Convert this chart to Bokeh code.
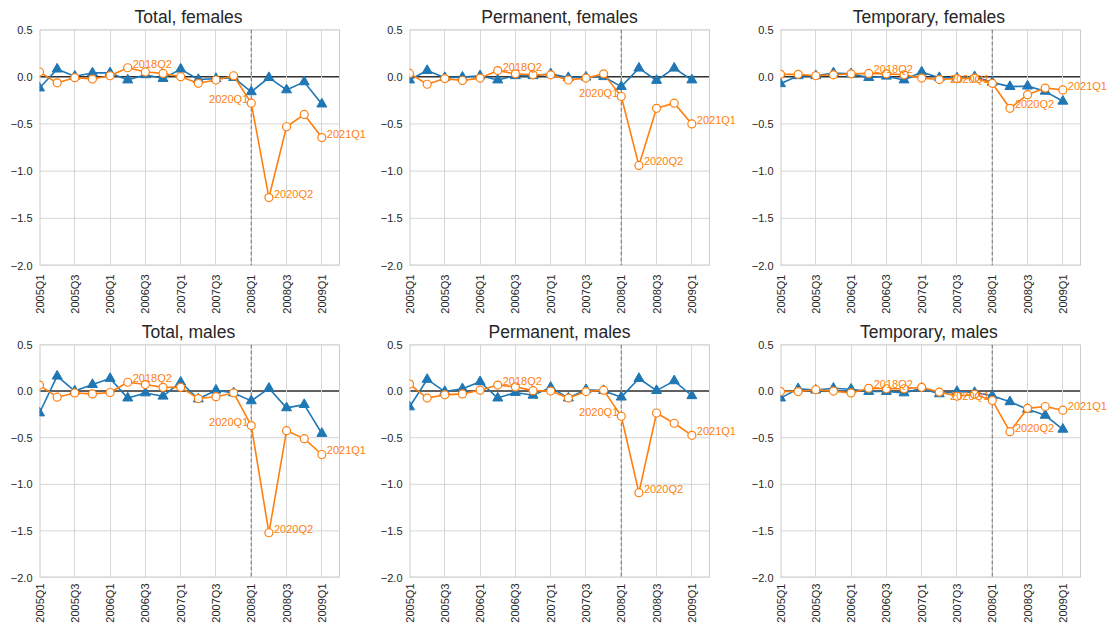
import math
from bokeh.plotting import figure
from bokeh.layouts import gridplot
from bokeh.models import FixedTicker, Span, Range1d, ColumnDataSource, LabelSet
from bokeh.core.properties import value
from bokeh.embed import file_html
from bokeh.resources import INLINE

# ---------------- data ----------------
quarters = ["2005Q1", "2005Q2", "2005Q3", "2005Q4", "2006Q1", "2006Q2", "2006Q3", "2006Q4",
            "2007Q1", "2007Q2", "2007Q3", "2007Q4", "2008Q1", "2008Q2", "2008Q3", "2008Q4", "2009Q1"]
recent_quarters = ["2017Q1", "2017Q2", "2017Q3", "2017Q4", "2018Q1", "2018Q2", "2018Q3", "2018Q4",
                   "2019Q1", "2019Q2", "2019Q3", "2019Q4", "2020Q1", "2020Q2", "2020Q3", "2020Q4", "2021Q1"]
annotated_right = ["2018Q2", "2020Q2", "2021Q1"]
annotated_left = ["2020Q1"]
tick_quarters = ["2005Q1", "2005Q3", "2006Q1", "2006Q3", "2007Q1", "2007Q3", "2008Q1", "2008Q3", "2009Q1"]
marker_quarter = "2008Q1"
y_ticks = [-2.0, -1.5, -1.0, -0.5, 0.0, 0.5]
y_tick_labels = ["\u22122.0", "\u22121.5", "\u22121.0", "\u22120.5", "0.0", "0.5"]

titles = ["Total, females", "Permanent, females", "Temporary, females",
          "Total, males", "Permanent, males", "Temporary, males"]

total_females_crisis = [-0.12, 0.08, 0.005, 0.04, 0.04, -0.035, 0.02, -0.02, 0.08, -0.03, -0.02, -0.01,
                        -0.16, -0.01, -0.14, -0.055, -0.29]
total_females_covid = [0.05, -0.065, -0.01, -0.025, 0.01, 0.095, 0.05, 0.035, 0.0, -0.07, -0.035, 0.01,
                       -0.28, -1.28, -0.53, -0.40, -0.645]
permanent_females_crisis = [-0.035, 0.065, -0.01, -0.005, 0.01, -0.035, 0.01, 0.01, 0.03, -0.01, -0.005, 0.0,
                            -0.105, 0.09, -0.04, 0.09, -0.035]
permanent_females_covid = [0.035, -0.08, -0.02, -0.04, -0.015, 0.065, 0.03, 0.02, 0.02, -0.035, -0.015, 0.03,
                           -0.21, -0.94, -0.335, -0.28, -0.50]
temporary_females_crisis = [-0.075, 0.01, 0.01, 0.04, 0.03, -0.01, 0.005, -0.035, 0.05, -0.01, -0.015, 0.0,
                            -0.06, -0.105, -0.10, -0.155, -0.26]
temporary_females_covid = [0.025, 0.025, 0.01, 0.02, 0.03, 0.035, 0.03, 0.02, -0.015, -0.03, -0.02, -0.015,
                           -0.07, -0.335, -0.19, -0.12, -0.14]
total_males_crisis = [-0.235, 0.16, 0.0, 0.07, 0.135, -0.075, -0.02, -0.055, 0.095, -0.085, 0.01, -0.02,
                      -0.105, 0.03, -0.18, -0.145, -0.455]
total_males_covid = [0.065, -0.065, -0.02, -0.03, -0.015, 0.095, 0.07, 0.04, 0.04, -0.08, -0.06, -0.02,
                     -0.37, -1.52, -0.425, -0.51, -0.68]
permanent_males_crisis = [-0.17, 0.125, -0.005, 0.025, 0.10, -0.075, -0.015, -0.045, 0.04, -0.075, 0.015, 0.005,
                          -0.065, 0.135, 0.005, 0.11, -0.05]
permanent_males_covid = [0.075, -0.075, -0.04, -0.03, 0.01, 0.065, 0.045, 0.005, 0.0, -0.075, -0.005, 0.01,
                         -0.27, -1.09, -0.235, -0.345, -0.475]
temporary_males_crisis = [-0.075, 0.025, 0.01, 0.03, 0.02, -0.005, -0.005, -0.02, 0.03, -0.03, -0.005, -0.015,
                          -0.05, -0.115, -0.195, -0.26, -0.41]
temporary_males_covid = [-0.005, -0.005, 0.015, 0.0, -0.02, 0.03, 0.025, 0.025, 0.04, -0.01, -0.055, -0.035,
                         -0.10, -0.435, -0.185, -0.165, -0.205]

crisis_series = [total_females_crisis, permanent_females_crisis, temporary_females_crisis,
                 total_males_crisis, permanent_males_crisis, temporary_males_crisis]
covid_series = [total_females_covid, permanent_females_covid, temporary_females_covid,
                total_males_covid, permanent_males_covid, temporary_males_covid]

# ---------------- style / layout ----------------
BLUE = "#1f77b4"
ORANGE = "#ff7f0e"
FONT = "Liberation Sans"
TXT = "#262626"
EDGE = "#cccccc"
GRID = "#d6d6d6"
TITLE_PX = 17.5
# approximate advance widths (em) of Liberation Sans, used to centre titles over the axes box
ADV = {"T": 0.611, "o": 0.556, "t": 0.278, "a": 0.556, "l": 0.222, ",": 0.278, " ": 0.278,
       "f": 0.278, "e": 0.556, "m": 0.833, "s": 0.5, "P": 0.667, "r": 0.333, "n": 0.556,
       "y": 0.5, "p": 0.556}

AXES_W = 300          # visible axes box width (px)
EXTRA_W = 28          # room right of the axes box where point labels may run
FRAME_W = AXES_W + EXTRA_W
col_widths = [370, 370, 369]
col_left = [39, 39, 40]
row_heights = [316, 309]
row_top = [29, 28]
row_bottom = [51, 46]

n_q = len(quarters)
x_idx = list(range(n_q))
x_end = n_q * FRAME_W / AXES_W
tick_pos = [quarters.index(q) for q in tick_quarters]
vline_pos = quarters.index(marker_quarter)

figs = []
for k in range(6):
    r, c = divmod(k, 3)
    p = figure(width=col_widths[c], height=row_heights[r], output_backend="svg", toolbar_location=None,
               x_range=Range1d(0, x_end), y_range=Range1d(-2.0, 0.5),
               min_border_left=col_left[c], min_border_right=col_widths[c] - col_left[c] - FRAME_W,
               min_border_top=row_top[r], min_border_bottom=row_bottom[r])
    title_w = sum(ADV.get(ch, 0.55) for ch in titles[k]) * TITLE_PX
    p.title.text = titles[k]
    p.title.text_font = FONT
    p.title.text_font_size = f"{TITLE_PX}px"
    p.title.text_font_style = "normal"
    p.title.text_color = TXT
    p.title.align = "left"
    p.title.offset = AXES_W / 2 - title_w / 2
    p.title.standoff = 6
    p.outline_line_color = None
    p.background_fill_color = "white"
    p.border_fill_color = "white"

    p.xaxis.ticker = FixedTicker(ticks=tick_pos)
    p.xaxis.major_label_overrides = {i: quarters[i] for i in tick_pos}
    p.xaxis.major_label_orientation = math.pi / 2
    p.yaxis.ticker = FixedTicker(ticks=y_ticks)
    p.yaxis.major_label_overrides = dict(zip(y_ticks, y_tick_labels))
    for ax in (p.xaxis, p.yaxis):
        ax.axis_line_color = None
        ax.major_tick_line_color = None
        ax.minor_tick_line_color = None
        ax.major_tick_out = 0
        ax.major_tick_in = 0
        ax.major_label_text_font = FONT
        ax.major_label_text_color = TXT
    p.yaxis.major_label_text_font_size = "11px"
    p.yaxis.major_label_standoff = 7
    p.xaxis.major_label_text_font_size = "11px"
    p.xaxis.major_label_standoff = 9 if r == 0 else 6
    p.xgrid.grid_line_color = GRID
    p.xgrid.grid_line_width = 1
    p.ygrid.grid_line_color = None

    # horizontal grid lines and axes box edges, limited to the visible quarter span
    p.segment(x0=[0] * len(y_ticks), x1=[n_q] * len(y_ticks), y0=y_ticks, y1=y_ticks,
              line_color=GRID, line_width=1, level="underlay")
    p.segment(x0=[0, 0], x1=[n_q, n_q], y0=[0.5, -2.0], y1=[0.5, -2.0],
              line_color=EDGE, line_width=2, level="underlay")
    p.add_layout(Span(location=n_q, dimension="height", line_color=EDGE, line_width=1, level="underlay"))
    p.add_layout(Span(location=0, dimension="height", line_color=EDGE, line_width=2, level="underlay"))
    p.segment(x0=[0], x1=[n_q], y0=[0], y1=[0], line_color="#333333", line_width=1.5, level="underlay")
    p.add_layout(Span(location=vline_pos, dimension="height", line_color="#808080", line_width=1.2,
                      line_dash="4 2", level="underlay"))

    blue = crisis_series[k]
    orange = covid_series[k]
    p.line(x_idx, blue, line_color=BLUE, line_width=1.6)
    p.scatter(x_idx, blue, marker="triangle", size=10, fill_color=BLUE, line_color=BLUE)
    p.line(x_idx, orange, line_color=ORANGE, line_width=1.6)
    p.scatter(x_idx, orange, marker="circle", size=8, fill_color="white", line_color=ORANGE, line_width=1.2)

    ri = [recent_quarters.index(q) for q in annotated_right]
    li = [recent_quarters.index(q) for q in annotated_left]
    src_r = ColumnDataSource(dict(x=ri, y=[orange[i] for i in ri], t=annotated_right))
    src_l = ColumnDataSource(dict(x=li, y=[orange[i] for i in li], t=annotated_left))
    p.add_layout(LabelSet(x="x", y="y", text="t", source=src_r, text_color=ORANGE, text_font=value(FONT),
                          text_font_size="11px", text_align="left", text_baseline="alphabetic",
                          x_offset=5, y_offset=0))
    p.add_layout(LabelSet(x="x", y="y", text="t", source=src_l, text_color=ORANGE, text_font=value(FONT),
                          text_font_size="11px", text_align="right", text_baseline="alphabetic",
                          x_offset=-3, y_offset=0))
    figs.append(p)

grid = gridplot([figs[0:3], figs[3:6]], toolbar_location=None)
open("out.html", "w").write(file_html(grid, INLINE))
